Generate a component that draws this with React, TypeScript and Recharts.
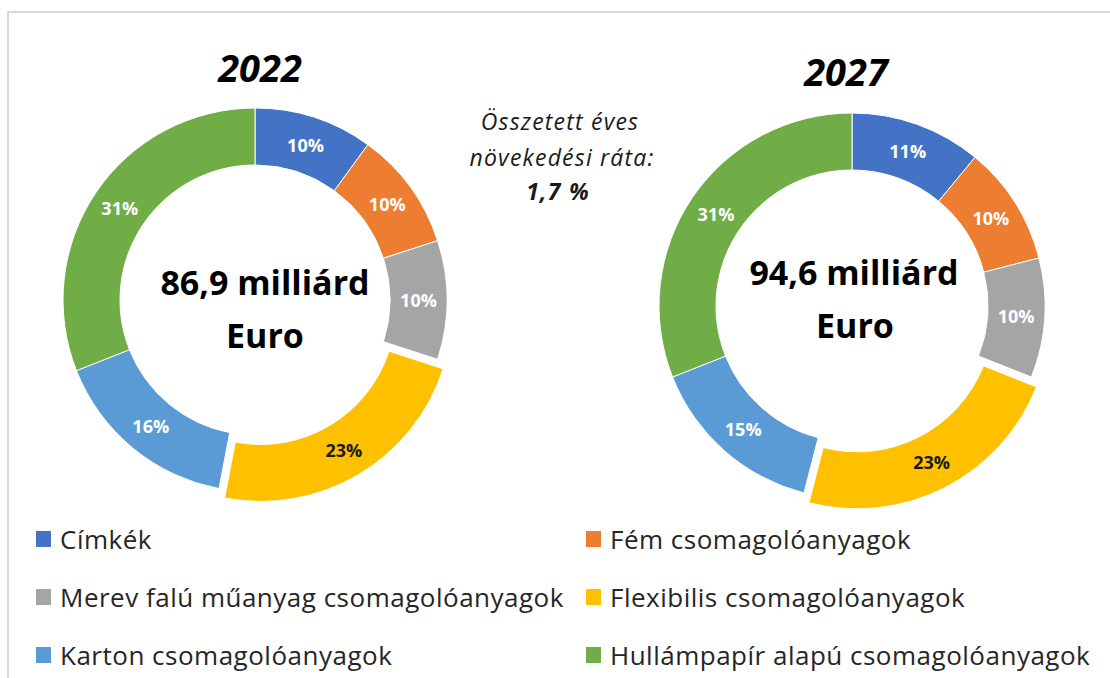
import { PieChart, Pie, Cell } from 'recharts'

const categories = [
  'Címkék',
  'Fém csomagolóanyagok',
  'Merev falú műanyag csomagolóanyagok',
  'Flexibilis csomagolóanyagok',
  'Karton csomagolóanyagok',
  'Hullámpapír alapú csomagolóanyagok',
]
const colors = ['#4472C4', '#ED7D31', '#A5A5A5', '#FFC000', '#5B9BD5', '#70AD47']
const share2022 = [10, 10, 10, 23, 16, 31]
const share2027 = [11, 10, 10, 23, 15, 31]
const years = ['2022', '2027']
const totals = ['86,9 milliárd', '94,6 milliárd']
const totalUnit = 'Euro'
const cagrLines = ['Összetett éves', 'növekedési ráta:']
const cagrValue = '1,7 %'
const explodedIndex = 3

const font = '"Open Sans", Lato, sans-serif'
const RAD = Math.PI / 180

interface Slice {
  name: string
  value: number
}

const toSlices = (values: number[]): Slice[] => values.map((v, i) => ({ name: categories[i], value: v }))

// shift of the exploded slice, along its mid angle
function explodeOffset(values: number[], dist: number) {
  const total = values.reduce((s, v) => s + v, 0)
  const before = values.slice(0, explodedIndex).reduce((s, v) => s + v, 0)
  const mid = ((before + values[explodedIndex] / 2) / total) * 360
  return { dx: Math.sin(mid * RAD) * dist, dy: -Math.cos(mid * RAD) * dist }
}

function makeLabel(exploded: boolean) {
  return (props: any) => {
    const { cx, cy, midAngle, innerRadius, outerRadius, index, value } = props
    if ((index === explodedIndex) !== exploded) return null
    const r = (innerRadius + outerRadius) / 2
    const x = cx + r * Math.cos(-midAngle * RAD)
    const y = cy + r * Math.sin(-midAngle * RAD)
    return (
      <text
        x={x}
        y={y}
        textAnchor="middle"
        dominantBaseline="central"
        fill={index === explodedIndex ? '#1a1a1a' : '#ffffff'}
        fontFamily={font}
        fontWeight={700}
        fontSize={18}
      >
        {value}%
      </text>
    )
  }
}

function Donut({ values, cx, cy, outer, inner }: { values: number[]; cx: number; cy: number; outer: number; inner: number }) {
  const data = toSlices(values)
  const { dx, dy } = explodeOffset(values, 11)
  return (
    <>
      <Pie
        data={data}
        dataKey="value"
        nameKey="name"
        cx={cx}
        cy={cy}
        innerRadius={inner}
        outerRadius={outer}
        startAngle={90}
        endAngle={-270}
        isAnimationActive={false}
        label={makeLabel(false)}
        labelLine={false}
      >
        {data.map((d, i) => (
          <Cell
            key={d.name}
            fill={i === explodedIndex ? 'transparent' : colors[i]}
            stroke={i === explodedIndex ? 'none' : '#ffffff'}
            strokeWidth={1}
          />
        ))}
      </Pie>
      <Pie
        data={data}
        dataKey="value"
        nameKey="name"
        cx={cx + dx}
        cy={cy + dy}
        innerRadius={inner}
        outerRadius={outer}
        startAngle={90}
        endAngle={-270}
        isAnimationActive={false}
        label={makeLabel(true)}
        labelLine={false}
      >
        {data.map((d, i) => (
          <Cell
            key={d.name}
            fill={i === explodedIndex ? colors[i] : 'transparent'}
            stroke={i === explodedIndex ? '#ffffff' : 'none'}
            strokeWidth={1}
          />
        ))}
      </Pie>
    </>
  )
}

const legendCols = [
  { square: 36, text: 60 },
  { square: 586, text: 610 },
]
const legendRows = [539, 597, 655]

export default function App() {
  return (
    <div
      style={{
        position: 'absolute',
        left: 0,
        top: 0,
        width: 1110,
        height: 678,
        background: '#ffffff',
        overflow: 'hidden',
        fontFamily: font,
      }}
    >
      <div
        style={{
          position: 'absolute',
          left: 7,
          top: 11,
          width: 1200,
          height: 800,
          border: '2px solid #d9d9d9',
        }}
      />
      <div style={{ position: 'absolute', left: 0, top: 0 }}>
        <PieChart width={1110} height={678} margin={{ top: 0, right: 0, bottom: 0, left: 0 }}>
          {Donut({ values: share2022, cx: 255, cy: 300, outer: 192, inner: 135 })}
          {Donut({ values: share2027, cx: 852, cy: 306, outer: 193, inner: 136 })}
        </PieChart>
      </div>
      <svg width={1110} height={678} style={{ position: 'absolute', left: 0, top: 0, pointerEvents: 'none' }}>
        <g fontFamily={font} fill="#000000" textAnchor="middle">
          <text x={260} y={82} fontSize={38} fontWeight={700} fontStyle="italic">
            {years[0]}
          </text>
          <text x={846} y={86} fontSize={38} fontWeight={700} fontStyle="italic">
            {years[1]}
          </text>
          <text x={265} y={295} fontSize={34} fontWeight={700}>
            {totals[0]}
          </text>
          <text x={265} y={348} fontSize={34} fontWeight={700}>
            {totalUnit}
          </text>
          <text x={854} y={285} fontSize={34} fontWeight={700}>
            {totals[1]}
          </text>
          <text x={855} y={338} fontSize={34} fontWeight={700}>
            {totalUnit}
          </text>
          <g fontSize={23} fontStyle="italic" fill="#1a1a1a" letterSpacing={1.2}>
            <text x={560} y={130}>
              {cagrLines[0]}
            </text>
            <text x={562} y={166}>
              {cagrLines[1]}
            </text>
            <text x={558} y={200} fontWeight={700}>
              {cagrValue}
            </text>
          </g>
        </g>
      </svg>
      {categories.map((name, i) => {
        const col = legendCols[i % 2]
        const rowY = legendRows[Math.floor(i / 2)]
        return (
          <div key={name}>
            <div
              style={{
                position: 'absolute',
                left: col.square,
                top: rowY - 8,
                width: 15,
                height: 16,
                background: colors[i],
              }}
            />
            <div
              style={{
                position: 'absolute',
                left: col.text,
                top: rowY - 17,
                height: 34,
                lineHeight: '34px',
                fontSize: 26,
                letterSpacing: 0.5,
                color: '#262626',
                whiteSpace: 'nowrap',
              }}
            >
              {name}
            </div>
          </div>
        )
      })}
    </div>
  )
}
